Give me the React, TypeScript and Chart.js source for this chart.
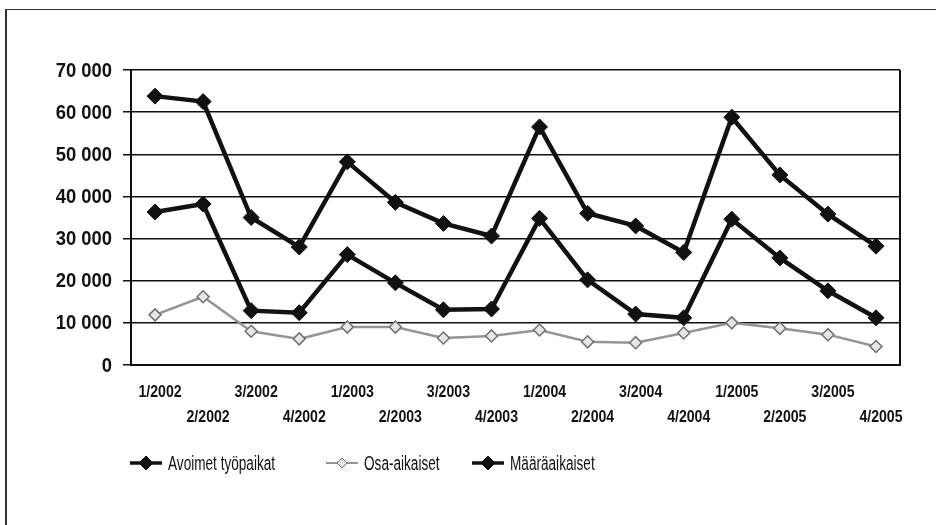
import React, { useEffect, useRef } from "react";
import { Chart, registerables } from "chart.js";

Chart.register(...registerables);

const quarters = [
  "1/2002", "2/2002", "3/2002", "4/2002",
  "1/2003", "2/2003", "3/2003", "4/2003",
  "1/2004", "2/2004", "3/2004", "4/2004",
  "1/2005", "2/2005", "3/2005", "4/2005",
];
const avoimet = [63800, 62500, 35000, 28000, 48200, 38600, 33600, 30600, 56500, 36000, 33000, 26700, 58800, 45100, 35800, 28200];
const osaAikaiset = [11900, 16200, 8000, 6200, 9000, 9000, 6400, 6900, 8300, 5500, 5300, 7600, 10000, 8700, 7200, 4400];
const maaraAikaiset = [36300, 38200, 12900, 12400, 26200, 19500, 13100, 13300, 34800, 20200, 12100, 11200, 34600, 25400, 17600, 11200];
const seriesNames = ["Avoimet työpaikat", "Osa-aikaiset", "Määräaikaiset"];
const yMax = 70000;
const yStep = 10000;

const FONT = '"Liberation Sans", Arial, sans-serif';

const fmt = (v: number) => String(v).replace(/\B(?=(\d{3})+(?!\d))/g, " ");

// draws text horizontally condensed (the original uses a narrow typeface)
function narrowText(ctx: any, text: string, x: number, y: number, sx: number, align: string) {
  ctx.save();
  ctx.translate(x, y);
  ctx.scale(sx, 1);
  ctx.textAlign = align;
  ctx.fillText(text, 0, 0);
  ctx.restore();
}

const labelsPlugin = {
  id: "labelsPlugin",
  afterDatasetsDraw(chart: any) {
    const { ctx, chartArea } = chart;
    ctx.save();
    ctx.strokeStyle = "#111";
    ctx.lineWidth = 2;
    ctx.beginPath();
    ctx.moveTo(chartArea.right, chartArea.top);
    ctx.lineTo(chartArea.right, chartArea.bottom);
    ctx.stroke();
    ctx.restore();
  },
  afterDraw(chart: any) {
    const { ctx, chartArea } = chart;
    const xs = chart.scales.x;
    const ys = chart.scales.y;
    ctx.save();
    ctx.fillStyle = "#111";
    ctx.textBaseline = "middle";

    // y tick labels
    ctx.font = `bold 20px ${FONT}`;
    ys.ticks.forEach((t: any) => {
      narrowText(ctx, fmt(t.value), chartArea.left - 19, ys.getPixelForValue(t.value) + 1, 0.92, "right");
    });

    // x tick labels, staggered in two rows
    ctx.font = `bold 17px ${FONT}`;
    quarters.forEach((q, i) => {
      const px = xs.getPixelForValue(i) + 5;
      const py = chartArea.bottom + (i % 2 === 0 ? 27 : 52);
      narrowText(ctx, q, px, py, 0.83, "center");
    });

    // legend
    const y = 463;
    const starts = [0, 196, 342];
    ctx.font = `20px ${FONT}`;
    chart.data.datasets.forEach((ds: any, k: number) => {
      const x = chartArea.left - 1 + starts[k];
      const w = 32;
      ctx.strokeStyle = ds.borderColor;
      ctx.lineWidth = Math.max(ds.borderWidth - 1, 2);
      ctx.beginPath();
      ctx.moveTo(x, y);
      ctx.lineTo(x + w, y);
      ctx.stroke();
      const r = ds.pointRadius - 1;
      ctx.fillStyle = ds.pointBackgroundColor;
      ctx.strokeStyle = ds.pointBorderColor;
      ctx.lineWidth = 1;
      ctx.beginPath();
      ctx.moveTo(x + w / 2, y - r);
      ctx.lineTo(x + w / 2 + r, y);
      ctx.lineTo(x + w / 2, y + r);
      ctx.lineTo(x + w / 2 - r, y);
      ctx.closePath();
      ctx.fill();
      ctx.stroke();
      ctx.fillStyle = "#111";
      narrowText(ctx, ds.label, x + w + 6, y + 1, 0.68, "left");
    });
    ctx.restore();
  },
};

export default function App() {
  const ref = useRef<HTMLCanvasElement | null>(null);
  useEffect(() => {
    if (!ref.current) return;
    const chart = new Chart(ref.current, {
      type: "line",
      data: {
        labels: quarters,
        datasets: [
          {
            label: seriesNames[0],
            data: avoimet,
            borderColor: "#111",
            borderWidth: 4.5,
            pointStyle: "rectRot",
            pointRadius: 8,
            pointBackgroundColor: "#111",
            pointBorderColor: "#111",
            pointBorderWidth: 1,
            tension: 0,
          },
          {
            label: seriesNames[1],
            data: osaAikaiset,
            borderColor: "#959595",
            borderWidth: 2.5,
            pointStyle: "rectRot",
            pointRadius: 6,
            pointBackgroundColor: "#e6e6e6",
            pointBorderColor: "#707070",
            pointBorderWidth: 1.5,
            tension: 0,
          },
          {
            label: seriesNames[2],
            data: maaraAikaiset,
            borderColor: "#111",
            borderWidth: 4.5,
            pointStyle: "rectRot",
            pointRadius: 8,
            pointBackgroundColor: "#111",
            pointBorderColor: "#111",
            pointBorderWidth: 1,
            tension: 0,
          },
        ],
      },
      options: {
        animation: false,
        responsive: false,
        layout: { padding: { top: 70, right: 36, bottom: 100, left: 0 } },
        plugins: { legend: { display: false }, tooltip: { enabled: false } },
        scales: {
          x: {
            type: "category",
            offset: true,
            grid: { display: false, drawTicks: false },
            border: { display: true, color: "#111", width: 2 },
            ticks: { display: false, autoSkip: false },
            afterFit: (scale: any) => {
              scale.height = 60;
            },
          },
          y: {
            min: 0,
            max: yMax,
            grid: { color: "#111", lineWidth: 1.5, tickLength: 8, drawTicks: true },
            border: { display: true, color: "#111", width: 2 },
            ticks: { display: false, stepSize: yStep },
            afterFit: (scale: any) => {
              scale.width = 131;
            },
          },
        },
      },
      plugins: [labelsPlugin],
    });
    return () => chart.destroy();
  }, []);

  return (
    <div style={{ position: "absolute", left: 0, top: 0, width: 936, height: 525, overflow: "hidden", background: "#fff" }}>
      <div
        style={{
          position: "absolute",
          left: 5,
          top: 9,
          width: 960,
          height: 560,
          borderLeft: "2px solid #333",
          borderTop: "1.5px solid #333",
        }}
      />
      <canvas ref={ref} width={936} height={525} style={{ position: "absolute", left: 0, top: 0 }} />
    </div>
  );
}
